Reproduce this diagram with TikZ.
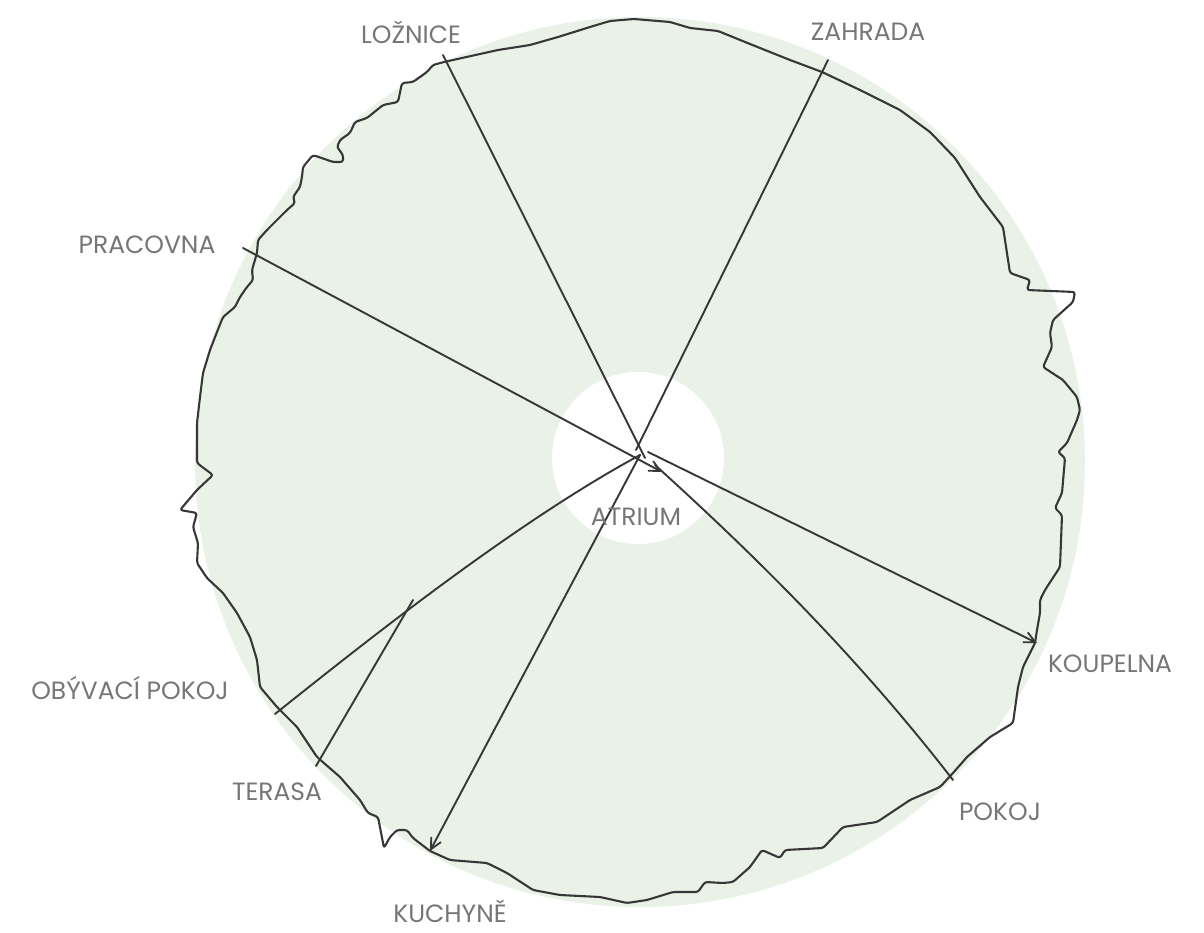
\documentclass[tikz,border=0pt]{standalone}
\usepackage{fontspec}
\setmainfont{Poppins}
\usetikzlibrary{arrows.meta}
\definecolor{sage}{RGB}{234,241,230}
\definecolor{ink}{RGB}{55,55,55}
\definecolor{labgray}{RGB}{118,118,118}
\tikzset{
  outline/.style={draw=ink, line width=2.1pt, line join=round, line cap=round, rounded corners=2.5pt},
  link/.style={draw=ink, line width=1.9pt, line cap=round},
  lab/.style={text=labgray, inner sep=0pt, font=\fontsize{25}{28}\selectfont},
  tip/.style={-{Straight Barb[length=11pt,width=11pt,line width=1.8pt]}}
}
\begin{document}
\begin{tikzpicture}[x=1pt,y=-1pt]
\useasboundingbox (0,0) rectangle (1204,933);
% green disc and white atrium
\fill[sage] (640,462) circle (445);
\fill[white] (638,458) circle (86);
% hand-drawn outline
\draw[outline] (444,62) -- (462,58) -- (498,50) -- (530,45) -- (558,37) -- (590,27) -- (610,21) -- (634,19) -- (670,22) -- (690,28) -- (718,31) -- (750,44) -- (790,60) -- (822,72) -- (860,90) -- (900,110) -- (930,132) -- (955,158) -- (980,197) -- (1003,227) -- (1010,273) -- (1030,280) -- (1027,290) -- (1075,292) -- (1073,302) -- (1053,320) -- (1050,333) -- (1052,347) -- (1043,367) -- (1063,380) -- (1077,397) -- (1080,410) -- (1077,420) -- (1067,443) -- (1058,452) -- (1065,458) -- (1062,493) -- (1055,508) -- (1062,515) -- (1060,567) -- (1045,590) -- (1040,600) -- (1040,613) -- (1037,630) -- (1035,643) -- (1023,667) -- (1018,687) -- (1013,723) -- (990,737) -- (967,757) -- (953,773) -- (940,787) -- (910,800) -- (877,822) -- (843,827) -- (823,848) -- (785,850) -- (780,858) -- (762,850) -- (750,867) -- (733,882) -- (723,883) -- (705,882) -- (698,892) -- (673,892) -- (647,900) -- (627,903) -- (600,897) -- (560,895) -- (533,890) -- (507,873) -- (487,863) -- (450,860) -- (430,851) -- (413,838) -- (407,830) -- (397,830) -- (390,837) -- (384,848) -- (378,817) -- (368,813) -- (360,800) -- (340,777) -- (317,757) -- (297,727) -- (280,710) -- (277,707) -- (260,687) -- (257,660) -- (250,637) -- (237,613) -- (223,593) -- (207,578) -- (197,563) -- (198,543) -- (193,527) -- (197,513) -- (180,510) -- (197,490) -- (213,475) -- (197,463) -- (197,423) -- (200,397) -- (203,373) -- (210,350) -- (217,332) -- (223,317) -- (235,307) -- (240,297) -- (247,287) -- (253,280) -- (252,270) -- (257,253) -- (258,240) -- (267,230) -- (277,220) -- (287,210) -- (295,203) -- (293,197) -- (300,187) -- (302,177) -- (303,167) -- (313,155) -- (333,162) -- (343,162) -- (343,155) -- (337,147) -- (340,140) -- (350,133) -- (355,122) -- (367,118) -- (383,105) -- (398,102) -- (402,83) -- (413,82) -- (427,72) -- (433,65) -- cycle;
% centre and end points
\coordinate (c) at (640,455);
\coordinate (cA) at (645,458);
\coordinate (cB) at (636,450);
\coordinate (cP) at (662,472);
\coordinate (cK) at (648,452);
\coordinate (cO) at (655,465);
\coordinate (eLoz) at (443,55);
\coordinate (eZah) at (828,60);
\coordinate (ePra) at (243,248);
\coordinate (eKou) at (1037,643);
\coordinate (ePok) at (953,780);
\coordinate (eKuch) at (430,851);
\coordinate (eOby) at (275,714);
\coordinate (tS) at (413,600);
\coordinate (eTer) at (316,766);
% connectors
\draw[link] (eLoz) -- (cA);
\draw[link] (eZah) -- (cB);
\draw[link,tip] (ePra) -- (cP);
\draw[link,tip] (cK) -- (eKou);
\draw[link] (cO) .. controls (760,560) and (860,660) .. (ePok);
\draw[link,tip] (c) -- (eKuch);
\draw[link] (c) .. controls (520,520) and (380,630) .. (eOby);
\draw[link] (tS) -- (eTer);
% labels
\node[lab] (lLoz) at (411,32) {LOŽNICE};
\node[lab] (lZah) at (868,32) {ZAHRADA};
\node[lab] (lPra) at (147,245) {PRACOVNA};
\node[lab] (lOby) at (130,688) {OBÝVACÍ POKOJ};
\node[lab] (lTer) at (277,792) {TERASA};
\node[lab] (lKuch) at (450,911) {KUCHYNĚ};
\node[lab] (lPok) at (1000,812) {POKOJ};
\node[lab] (lKou) at (1110,664) {KOUPELNA};
\node[lab] (lAtr) at (636,517) {ATRIUM};
\end{tikzpicture}
\end{document}
